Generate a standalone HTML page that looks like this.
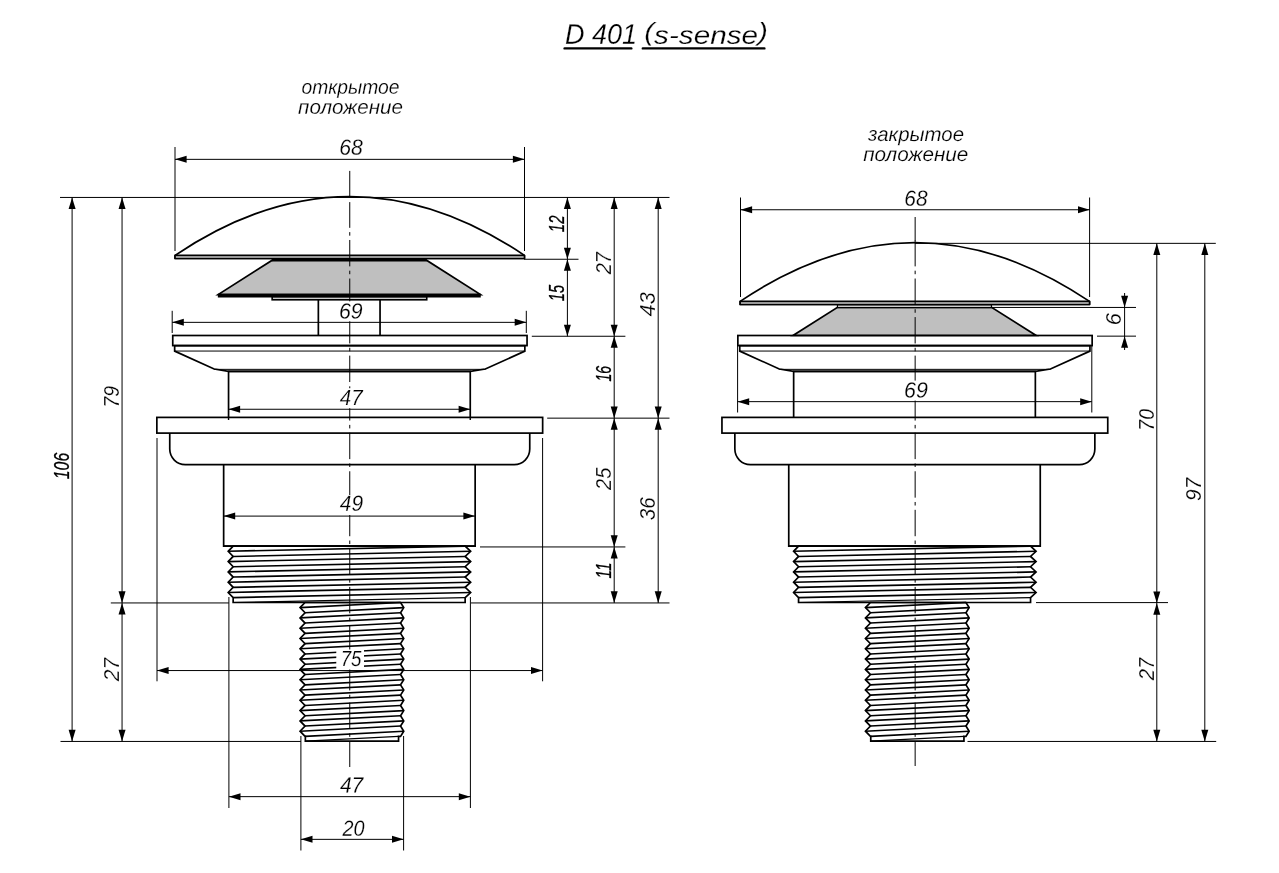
<!DOCTYPE html>
<html lang="ru">
<head>
<meta charset="utf-8">
<title>D 401 (s-sense)</title>
<style>
html,body{margin:0;padding:0;background:#fff;}
body{width:1279px;height:873px;overflow:hidden;}
svg{display:block;will-change:transform;filter:grayscale(1);}
.t,.tb{font-family:"Liberation Sans", "DejaVu Sans", sans-serif;font-style:italic;text-anchor:middle;fill:#000;stroke:#fff;stroke-width:0.2px;}
.tb{stroke:#000;stroke-width:0.3px;}
</style>
</head>
<body>
<svg width="1279" height="873" viewBox="0 0 1279 873" stroke="#000" fill="none" stroke-linecap="butt">
<rect x="0" y="0" width="1279" height="873" fill="#fff" stroke="none"/>

<g id="view-open">
<path d="M228.55,417.4 V371.3 H470.25 V417.4" stroke-width="1.7" fill="none" />
<path d="M169.75,433.1 V449.10 A15.5,15.5 0 0 0 185.25,464.6 H514.25 A15.5,15.5 0 0 0 529.75,449.10 V433.1" stroke-width="1.7" fill="none" />
<rect x="156.85" y="417.40" width="385.80" height="15.70" stroke-width="1.7" fill="none" />
<path d="M228.55,417.4 V420.0 M470.25,417.4 V420.0" stroke-width="1.4" fill="none" />
<path d="M223.65,464.6 V546.1 H475.15 V464.6" stroke-width="1.7" fill="none" />
<path d="M233.15,546.10 L228.20,551.30 L233.15,556.45 L228.20,561.60 L233.15,566.75 L228.20,571.90 L233.15,577.05 L228.20,582.20 L233.15,587.35 L228.20,592.50 L233.15,597.65 L233.15,597.65 L233.15,602.50 L465.15,602.50 L465.15,597.65 L465.15,597.65 L470.65,592.50 L465.15,587.35 L470.65,582.20 L465.15,577.05 L470.65,571.90 L465.15,566.75 L470.65,561.60 L465.15,556.45 L470.65,551.30 L465.15,546.10 Z" stroke-width="1.7" fill="none" stroke-linejoin="miter"/>
<line x1="228.20" y1="551.30" x2="465.15" y2="546.15" stroke-width="1.65" />
<line x1="233.15" y1="556.45" x2="470.65" y2="551.30" stroke-width="1.65" />
<line x1="228.20" y1="561.60" x2="465.15" y2="556.45" stroke-width="1.65" />
<line x1="233.15" y1="566.75" x2="470.65" y2="561.60" stroke-width="1.65" />
<line x1="228.20" y1="571.90" x2="465.15" y2="566.75" stroke-width="1.65" />
<line x1="233.15" y1="577.05" x2="470.65" y2="571.90" stroke-width="1.65" />
<line x1="228.20" y1="582.20" x2="465.15" y2="577.05" stroke-width="1.65" />
<line x1="233.15" y1="587.35" x2="470.65" y2="582.20" stroke-width="1.65" />
<line x1="228.20" y1="592.50" x2="465.15" y2="587.35" stroke-width="1.65" />
<line x1="233.15" y1="597.65" x2="470.65" y2="592.50" stroke-width="1.65" />
<line x1="233.15" y1="602.50" x2="465.15" y2="597.65" stroke-width="1.2" />
<path d="M305.05,602.50 L300.05,607.60 L305.05,612.75 L300.05,617.90 L305.05,623.05 L300.05,628.20 L305.05,633.35 L300.05,638.50 L305.05,643.65 L300.05,648.80 L305.05,653.95 L300.05,659.10 L305.05,664.25 L300.05,669.40 L305.05,674.55 L300.05,679.70 L305.05,684.85 L300.05,690.00 L305.05,695.15 L300.05,700.30 L305.05,705.45 L300.05,710.60 L305.05,715.75 L300.05,720.90 L305.05,726.05 L300.05,731.20 L305.05,736.35 L305.35,736.35 L305.35,741.20 L398.55,741.20 L398.55,736.35 L400.55,736.35 L403.75,731.20 L400.55,726.05 L403.75,720.90 L400.55,715.75 L403.75,710.60 L400.55,705.45 L403.75,700.30 L400.55,695.15 L403.75,690.00 L400.55,684.85 L403.75,679.70 L400.55,674.55 L403.75,669.40 L400.55,664.25 L403.75,659.10 L400.55,653.95 L403.75,648.80 L400.55,643.65 L403.75,638.50 L400.55,633.35 L403.75,628.20 L400.55,623.05 L403.75,617.90 L400.55,612.75 L403.75,607.60 L400.55,602.50 Z" stroke-width="1.7" fill="none" stroke-linejoin="miter"/>
<line x1="300.05" y1="607.60" x2="400.55" y2="602.45" stroke-width="1.65" />
<line x1="305.05" y1="612.75" x2="403.75" y2="607.60" stroke-width="1.65" />
<line x1="300.05" y1="617.90" x2="400.55" y2="612.75" stroke-width="1.65" />
<line x1="305.05" y1="623.05" x2="403.75" y2="617.90" stroke-width="1.65" />
<line x1="300.05" y1="628.20" x2="400.55" y2="623.05" stroke-width="1.65" />
<line x1="305.05" y1="633.35" x2="403.75" y2="628.20" stroke-width="1.65" />
<line x1="300.05" y1="638.50" x2="400.55" y2="633.35" stroke-width="1.65" />
<line x1="305.05" y1="643.65" x2="403.75" y2="638.50" stroke-width="1.65" />
<line x1="300.05" y1="648.80" x2="400.55" y2="643.65" stroke-width="1.65" />
<line x1="305.05" y1="653.95" x2="403.75" y2="648.80" stroke-width="1.65" />
<line x1="300.05" y1="659.10" x2="400.55" y2="653.95" stroke-width="1.65" />
<line x1="305.05" y1="664.25" x2="403.75" y2="659.10" stroke-width="1.65" />
<line x1="300.05" y1="669.40" x2="400.55" y2="664.25" stroke-width="1.65" />
<line x1="305.05" y1="674.55" x2="403.75" y2="669.40" stroke-width="1.65" />
<line x1="300.05" y1="679.70" x2="400.55" y2="674.55" stroke-width="1.65" />
<line x1="305.05" y1="684.85" x2="403.75" y2="679.70" stroke-width="1.65" />
<line x1="300.05" y1="690.00" x2="400.55" y2="684.85" stroke-width="1.65" />
<line x1="305.05" y1="695.15" x2="403.75" y2="690.00" stroke-width="1.65" />
<line x1="300.05" y1="700.30" x2="400.55" y2="695.15" stroke-width="1.65" />
<line x1="305.05" y1="705.45" x2="403.75" y2="700.30" stroke-width="1.65" />
<line x1="300.05" y1="710.60" x2="400.55" y2="705.45" stroke-width="1.65" />
<line x1="305.05" y1="715.75" x2="403.75" y2="710.60" stroke-width="1.65" />
<line x1="300.05" y1="720.90" x2="400.55" y2="715.75" stroke-width="1.65" />
<line x1="305.05" y1="726.05" x2="403.75" y2="720.90" stroke-width="1.65" />
<line x1="300.05" y1="731.20" x2="400.55" y2="726.05" stroke-width="1.65" />
<line x1="305.05" y1="736.35" x2="403.75" y2="731.20" stroke-width="1.65" />
<line x1="305.35" y1="741.20" x2="398.55" y2="736.35" stroke-width="1.2" />
<line x1="223.65" y1="546.10" x2="475.15" y2="546.10" stroke-width="1.7" />
<path d="M174.65,345.6 V351.1 L214.15,369.0 L228.55,371.3 H470.35 L485.35,369.0 L524.85,351.1 V345.6 Z" stroke-width="1.7" fill="none" />
<line x1="174.65" y1="351.05" x2="524.85" y2="351.05" stroke-width="1.0" />
<line x1="214.15" y1="369.35" x2="485.35" y2="369.35" stroke-width="1.0" />
<rect x="172.75" y="335.50" width="354.30" height="10.10" stroke-width="1.7" fill="none" />
<path d="M318.35,335.5 V299.8 M380.05,335.5 V299.8" stroke-width="1.7" fill="none" />
<rect x="272.15" y="296.50" width="154.60" height="3.30" stroke-width="1.6" fill="#cccccc" />
<path d="M272.25,260.2 H426.45 L480.55,294.6 H218.15 Z" stroke-width="1.7" fill="#bfbfbf" stroke-linejoin="miter"/>
<rect x="217.85" y="293.70" width="262.90" height="3.80" stroke-width="0" fill="#000" stroke="none"/>
<rect x="271.85" y="258.40" width="154.90" height="3.10" stroke-width="0" fill="#000" stroke="none"/>
<path d="M175.05,255.40 Q349.75,137.80 524.45,255.40 V258.50 H175.05 Z" stroke-width="1.7" fill="none" stroke-linejoin="round"/>
<rect x="175.05" y="255.40" width="349.40" height="3.10" stroke-width="1.6" fill="#cccccc" stroke-linejoin="round"/>
</g>
<g id="view-closed">
<path d="M793.65,417.4 V371.3 H1035.35 V417.4" stroke-width="1.7" fill="none" />
<path d="M734.85,433.1 V449.10 A15.5,15.5 0 0 0 750.35,464.6 H1079.35 A15.5,15.5 0 0 0 1094.85,449.10 V433.1" stroke-width="1.7" fill="none" />
<rect x="721.95" y="417.40" width="385.80" height="15.70" stroke-width="1.7" fill="none" />
<path d="M788.75,464.6 V546.1 H1040.25 V464.6" stroke-width="1.7" fill="none" />
<path d="M798.55,546.10 L793.60,551.30 L798.55,556.45 L793.60,561.60 L798.55,566.75 L793.60,571.90 L798.55,577.05 L793.60,582.20 L798.55,587.35 L793.60,592.50 L798.55,597.65 L798.55,597.65 L798.55,602.50 L1030.55,602.50 L1030.55,597.65 L1030.55,597.65 L1036.05,592.50 L1030.55,587.35 L1036.05,582.20 L1030.55,577.05 L1036.05,571.90 L1030.55,566.75 L1036.05,561.60 L1030.55,556.45 L1036.05,551.30 L1030.55,546.10 Z" stroke-width="1.7" fill="none" stroke-linejoin="miter"/>
<line x1="793.60" y1="551.30" x2="1030.55" y2="546.15" stroke-width="1.65" />
<line x1="798.55" y1="556.45" x2="1036.05" y2="551.30" stroke-width="1.65" />
<line x1="793.60" y1="561.60" x2="1030.55" y2="556.45" stroke-width="1.65" />
<line x1="798.55" y1="566.75" x2="1036.05" y2="561.60" stroke-width="1.65" />
<line x1="793.60" y1="571.90" x2="1030.55" y2="566.75" stroke-width="1.65" />
<line x1="798.55" y1="577.05" x2="1036.05" y2="571.90" stroke-width="1.65" />
<line x1="793.60" y1="582.20" x2="1030.55" y2="577.05" stroke-width="1.65" />
<line x1="798.55" y1="587.35" x2="1036.05" y2="582.20" stroke-width="1.65" />
<line x1="793.60" y1="592.50" x2="1030.55" y2="587.35" stroke-width="1.65" />
<line x1="798.55" y1="597.65" x2="1036.05" y2="592.50" stroke-width="1.65" />
<line x1="798.55" y1="602.50" x2="1030.55" y2="597.65" stroke-width="1.2" />
<path d="M870.45,602.50 L865.45,607.60 L870.45,612.75 L865.45,617.90 L870.45,623.05 L865.45,628.20 L870.45,633.35 L865.45,638.50 L870.45,643.65 L865.45,648.80 L870.45,653.95 L865.45,659.10 L870.45,664.25 L865.45,669.40 L870.45,674.55 L865.45,679.70 L870.45,684.85 L865.45,690.00 L870.45,695.15 L865.45,700.30 L870.45,705.45 L865.45,710.60 L870.45,715.75 L865.45,720.90 L870.45,726.05 L865.45,731.20 L870.45,736.35 L870.75,736.35 L870.75,741.20 L963.95,741.20 L963.95,736.35 L965.95,736.35 L969.15,731.20 L965.95,726.05 L969.15,720.90 L965.95,715.75 L969.15,710.60 L965.95,705.45 L969.15,700.30 L965.95,695.15 L969.15,690.00 L965.95,684.85 L969.15,679.70 L965.95,674.55 L969.15,669.40 L965.95,664.25 L969.15,659.10 L965.95,653.95 L969.15,648.80 L965.95,643.65 L969.15,638.50 L965.95,633.35 L969.15,628.20 L965.95,623.05 L969.15,617.90 L965.95,612.75 L969.15,607.60 L965.95,602.50 Z" stroke-width="1.7" fill="none" stroke-linejoin="miter"/>
<line x1="865.45" y1="607.60" x2="965.95" y2="602.45" stroke-width="1.65" />
<line x1="870.45" y1="612.75" x2="969.15" y2="607.60" stroke-width="1.65" />
<line x1="865.45" y1="617.90" x2="965.95" y2="612.75" stroke-width="1.65" />
<line x1="870.45" y1="623.05" x2="969.15" y2="617.90" stroke-width="1.65" />
<line x1="865.45" y1="628.20" x2="965.95" y2="623.05" stroke-width="1.65" />
<line x1="870.45" y1="633.35" x2="969.15" y2="628.20" stroke-width="1.65" />
<line x1="865.45" y1="638.50" x2="965.95" y2="633.35" stroke-width="1.65" />
<line x1="870.45" y1="643.65" x2="969.15" y2="638.50" stroke-width="1.65" />
<line x1="865.45" y1="648.80" x2="965.95" y2="643.65" stroke-width="1.65" />
<line x1="870.45" y1="653.95" x2="969.15" y2="648.80" stroke-width="1.65" />
<line x1="865.45" y1="659.10" x2="965.95" y2="653.95" stroke-width="1.65" />
<line x1="870.45" y1="664.25" x2="969.15" y2="659.10" stroke-width="1.65" />
<line x1="865.45" y1="669.40" x2="965.95" y2="664.25" stroke-width="1.65" />
<line x1="870.45" y1="674.55" x2="969.15" y2="669.40" stroke-width="1.65" />
<line x1="865.45" y1="679.70" x2="965.95" y2="674.55" stroke-width="1.65" />
<line x1="870.45" y1="684.85" x2="969.15" y2="679.70" stroke-width="1.65" />
<line x1="865.45" y1="690.00" x2="965.95" y2="684.85" stroke-width="1.65" />
<line x1="870.45" y1="695.15" x2="969.15" y2="690.00" stroke-width="1.65" />
<line x1="865.45" y1="700.30" x2="965.95" y2="695.15" stroke-width="1.65" />
<line x1="870.45" y1="705.45" x2="969.15" y2="700.30" stroke-width="1.65" />
<line x1="865.45" y1="710.60" x2="965.95" y2="705.45" stroke-width="1.65" />
<line x1="870.45" y1="715.75" x2="969.15" y2="710.60" stroke-width="1.65" />
<line x1="865.45" y1="720.90" x2="965.95" y2="715.75" stroke-width="1.65" />
<line x1="870.45" y1="726.05" x2="969.15" y2="720.90" stroke-width="1.65" />
<line x1="865.45" y1="731.20" x2="965.95" y2="726.05" stroke-width="1.65" />
<line x1="870.45" y1="736.35" x2="969.15" y2="731.20" stroke-width="1.65" />
<line x1="870.75" y1="741.20" x2="963.95" y2="736.35" stroke-width="1.2" />
<line x1="788.75" y1="546.10" x2="1040.25" y2="546.10" stroke-width="1.7" />
<path d="M837.55,307.3 H991.55 L1036.15,335.5 H793.05 Z" stroke-width="1.7" fill="#bfbfbf" stroke-linejoin="miter"/>
<rect x="837.45" y="304.60" width="154.00" height="3.00" stroke-width="1.2" fill="#cccccc" />
<path d="M739.75,345.6 V351.1 L779.25,369.0 L793.65,371.3 H1035.45 L1050.45,369.0 L1089.95,351.1 V345.6 Z" stroke-width="1.7" fill="none" />
<line x1="739.75" y1="351.05" x2="1089.95" y2="351.05" stroke-width="1.0" />
<line x1="779.25" y1="369.35" x2="1050.45" y2="369.35" stroke-width="1.0" />
<rect x="737.85" y="335.50" width="354.30" height="10.10" stroke-width="1.7" fill="none" />
<path d="M740.15,301.40 Q914.85,183.80 1089.55,301.40 V304.50 H740.15 Z" stroke-width="1.7" fill="none" stroke-linejoin="round"/>
<rect x="740.15" y="301.40" width="349.40" height="3.10" stroke-width="1.6" fill="#cccccc" stroke-linejoin="round"/>
</g>
<g id="centre">
<line x1="349.75" y1="170.90" x2="349.75" y2="196.50" stroke-width="1.0" />
<path d="M349.75,202.10V227.83 M349.75,232.12V235.68 M349.75,239.98V266.38 M349.75,270.68V274.22 M349.75,278.52V304.92 M349.75,309.23V312.77 M349.75,317.07V343.47 M349.75,347.78V351.32 M349.75,355.62V382.02 M349.75,386.33V389.88 M349.75,394.18V420.57 M349.75,424.88V428.42 M349.75,432.72V459.12 M349.75,463.43V466.97 M349.75,471.27V497.67 M349.75,501.98V505.52 M349.75,509.82V536.23 M349.75,540.52V544.07 M349.75,548.37V574.77 M349.75,579.08V582.62 M349.75,586.92V613.32 M349.75,617.62V621.17 M349.75,625.47V651.87 M349.75,656.17V659.72 M349.75,664.02V690.42 M349.75,694.73V698.27 M349.75,702.57V728.97 M349.75,733.27V736.82 M349.75,741.12V767.00" stroke-width="1.0" fill="none" />
<line x1="915.15" y1="217.00" x2="915.15" y2="241.00" stroke-width="1.0" />
<path d="M915.15,240.50V266.38 M915.15,270.68V274.22 M915.15,278.52V304.92 M915.15,309.23V312.77 M915.15,317.07V343.47 M915.15,347.78V351.32 M915.15,355.62V382.02 M915.15,386.33V389.88 M915.15,394.18V420.57 M915.15,424.88V428.42 M915.15,432.72V459.12 M915.15,463.43V466.97 M915.15,471.27V497.67 M915.15,501.98V505.52 M915.15,509.82V536.23 M915.15,540.52V544.07 M915.15,548.37V574.77 M915.15,579.08V582.62 M915.15,586.92V613.32 M915.15,617.62V621.17 M915.15,625.47V651.87 M915.15,656.17V659.72 M915.15,664.02V690.42 M915.15,694.73V698.27 M915.15,702.57V728.97 M915.15,733.27V736.82 M915.15,741.12V766.00" stroke-width="1.0" fill="none" />
</g>
<g id="masks">
<rect x="336.27" y="301.30" width="27.75" height="20.00" fill="#fff" stroke="none"/>
<rect x="336.27" y="388.20" width="27.75" height="20.00" fill="#fff" stroke="none"/>
<rect x="336.27" y="495.00" width="27.75" height="20.00" fill="#fff" stroke="none"/>
<rect x="336.27" y="649.50" width="27.75" height="20.00" fill="#fff" stroke="none"/>
<rect x="901.38" y="380.60" width="27.75" height="20.00" fill="#fff" stroke="none"/>
</g>
<g id="dims">
<line x1="175.00" y1="147.00" x2="175.00" y2="251.00" stroke-width="1.0" />
<line x1="524.50" y1="147.00" x2="524.50" y2="251.00" stroke-width="1.0" />
<line x1="175.00" y1="159.35" x2="524.50" y2="159.35" stroke-width="1.0" />
<polygon points="175.00,159.35 186.60,155.85 186.60,162.85" fill="#000" stroke="none"/>
<polygon points="524.50,159.35 512.90,162.85 512.90,155.85" fill="#000" stroke="none"/>
<line x1="172.20" y1="310.80" x2="172.20" y2="333.00" stroke-width="1.0" />
<line x1="526.30" y1="310.80" x2="526.30" y2="333.00" stroke-width="1.0" />
<line x1="172.20" y1="322.35" x2="526.30" y2="322.35" stroke-width="1.0" />
<polygon points="172.20,322.35 183.80,318.85 183.80,325.85" fill="#000" stroke="none"/>
<polygon points="526.30,322.35 514.70,325.85 514.70,318.85" fill="#000" stroke="none"/>
<line x1="228.50" y1="409.25" x2="470.20" y2="409.25" stroke-width="1.0" />
<polygon points="228.50,409.25 240.10,405.75 240.10,412.75" fill="#000" stroke="none"/>
<polygon points="470.20,409.25 458.60,412.75 458.60,405.75" fill="#000" stroke="none"/>
<line x1="223.60" y1="516.10" x2="475.00" y2="516.10" stroke-width="1.0" />
<polygon points="223.60,516.10 235.20,512.60 235.20,519.60" fill="#000" stroke="none"/>
<polygon points="475.00,516.10 463.40,519.60 463.40,512.60" fill="#000" stroke="none"/>
<line x1="157.00" y1="438.00" x2="157.00" y2="681.30" stroke-width="1.0" />
<line x1="542.60" y1="438.00" x2="542.60" y2="681.30" stroke-width="1.0" />
<line x1="157.00" y1="670.55" x2="542.60" y2="670.55" stroke-width="1.0" />
<polygon points="157.00,670.55 168.60,667.05 168.60,674.05" fill="#000" stroke="none"/>
<polygon points="542.60,670.55 531.00,674.05 531.00,667.05" fill="#000" stroke="none"/>
<line x1="228.90" y1="597.00" x2="228.90" y2="808.00" stroke-width="1.0" />
<line x1="470.40" y1="597.00" x2="470.40" y2="808.00" stroke-width="1.0" />
<line x1="228.90" y1="796.65" x2="470.40" y2="796.65" stroke-width="1.0" />
<polygon points="228.90,796.65 240.50,793.15 240.50,800.15" fill="#000" stroke="none"/>
<polygon points="470.40,796.65 458.80,800.15 458.80,793.15" fill="#000" stroke="none"/>
<line x1="300.90" y1="736.00" x2="300.90" y2="850.50" stroke-width="1.0" />
<line x1="403.60" y1="736.00" x2="403.60" y2="850.50" stroke-width="1.0" />
<line x1="300.90" y1="839.35" x2="403.60" y2="839.35" stroke-width="1.0" />
<polygon points="300.90,839.35 312.50,835.85 312.50,842.85" fill="#000" stroke="none"/>
<polygon points="403.60,839.35 392.00,842.85 392.00,835.85" fill="#000" stroke="none"/>
<line x1="60.00" y1="197.45" x2="669.50" y2="197.45" stroke-width="1.0" />
<line x1="110.80" y1="602.95" x2="228.90" y2="602.95" stroke-width="1.0" />
<line x1="60.50" y1="741.45" x2="300.90" y2="741.45" stroke-width="1.0" />
<line x1="72.10" y1="197.45" x2="72.10" y2="741.45" stroke-width="1.0" />
<polygon points="72.10,197.45 75.60,209.05 68.60,209.05" fill="#000" stroke="none"/>
<polygon points="72.10,741.45 68.60,729.85 75.60,729.85" fill="#000" stroke="none"/>
<line x1="122.05" y1="197.45" x2="122.05" y2="602.95" stroke-width="1.0" />
<polygon points="122.05,197.45 125.55,209.05 118.55,209.05" fill="#000" stroke="none"/>
<polygon points="122.05,602.95 118.55,591.35 125.55,591.35" fill="#000" stroke="none"/>
<line x1="122.05" y1="602.95" x2="122.05" y2="741.45" stroke-width="1.0" />
<polygon points="122.05,602.95 125.55,614.55 118.55,614.55" fill="#000" stroke="none"/>
<polygon points="122.05,741.45 118.55,729.85 125.55,729.85" fill="#000" stroke="none"/>
<line x1="524.00" y1="259.25" x2="578.50" y2="259.25" stroke-width="1.0" />
<line x1="531.80" y1="336.25" x2="625.40" y2="336.25" stroke-width="1.0" />
<line x1="547.20" y1="418.15" x2="669.50" y2="418.15" stroke-width="1.0" />
<line x1="480.00" y1="546.95" x2="625.40" y2="546.95" stroke-width="1.0" />
<line x1="471.00" y1="602.95" x2="669.50" y2="602.95" stroke-width="1.0" />
<line x1="567.40" y1="197.45" x2="567.40" y2="259.25" stroke-width="1.0" />
<polygon points="567.40,197.45 570.90,209.05 563.90,209.05" fill="#000" stroke="none"/>
<polygon points="567.40,259.25 563.90,247.65 570.90,247.65" fill="#000" stroke="none"/>
<line x1="567.40" y1="259.25" x2="567.40" y2="336.25" stroke-width="1.0" />
<polygon points="567.40,259.25 570.90,270.85 563.90,270.85" fill="#000" stroke="none"/>
<polygon points="567.40,336.25 563.90,324.65 570.90,324.65" fill="#000" stroke="none"/>
<line x1="614.20" y1="197.45" x2="614.20" y2="336.25" stroke-width="1.0" />
<polygon points="614.20,197.45 617.70,209.05 610.70,209.05" fill="#000" stroke="none"/>
<polygon points="614.20,336.25 610.70,324.65 617.70,324.65" fill="#000" stroke="none"/>
<line x1="614.20" y1="336.25" x2="614.20" y2="418.15" stroke-width="1.0" />
<polygon points="614.20,336.25 617.70,347.85 610.70,347.85" fill="#000" stroke="none"/>
<polygon points="614.20,418.15 610.70,406.55 617.70,406.55" fill="#000" stroke="none"/>
<line x1="614.20" y1="418.15" x2="614.20" y2="546.95" stroke-width="1.0" />
<polygon points="614.20,418.15 617.70,429.75 610.70,429.75" fill="#000" stroke="none"/>
<polygon points="614.20,546.95 610.70,535.35 617.70,535.35" fill="#000" stroke="none"/>
<line x1="614.20" y1="546.95" x2="614.20" y2="602.95" stroke-width="1.0" />
<polygon points="614.20,546.95 617.70,558.55 610.70,558.55" fill="#000" stroke="none"/>
<polygon points="614.20,602.95 610.70,591.35 617.70,591.35" fill="#000" stroke="none"/>
<line x1="658.20" y1="197.45" x2="658.20" y2="418.15" stroke-width="1.0" />
<polygon points="658.20,197.45 661.70,209.05 654.70,209.05" fill="#000" stroke="none"/>
<polygon points="658.20,418.15 654.70,406.55 661.70,406.55" fill="#000" stroke="none"/>
<line x1="658.20" y1="418.15" x2="658.20" y2="602.95" stroke-width="1.0" />
<polygon points="658.20,418.15 661.70,429.75 654.70,429.75" fill="#000" stroke="none"/>
<polygon points="658.20,602.95 654.70,591.35 661.70,591.35" fill="#000" stroke="none"/>
<line x1="740.50" y1="197.50" x2="740.50" y2="297.00" stroke-width="1.0" />
<line x1="1089.60" y1="197.50" x2="1089.60" y2="297.00" stroke-width="1.0" />
<line x1="740.50" y1="209.75" x2="1089.60" y2="209.75" stroke-width="1.0" />
<polygon points="740.50,209.75 752.10,206.25 752.10,213.25" fill="#000" stroke="none"/>
<polygon points="1089.60,209.75 1078.00,213.25 1078.00,206.25" fill="#000" stroke="none"/>
<line x1="737.60" y1="345.00" x2="737.60" y2="412.50" stroke-width="1.0" />
<line x1="1091.80" y1="345.00" x2="1091.80" y2="412.50" stroke-width="1.0" />
<line x1="737.60" y1="401.65" x2="1091.80" y2="401.65" stroke-width="1.0" />
<polygon points="737.60,401.65 749.20,398.15 749.20,405.15" fill="#000" stroke="none"/>
<polygon points="1091.80,401.65 1080.20,405.15 1080.20,398.15" fill="#000" stroke="none"/>
<line x1="914.85" y1="243.35" x2="1215.80" y2="243.35" stroke-width="1.0" />
<line x1="1036.00" y1="602.60" x2="1168.00" y2="602.60" stroke-width="1.0" />
<line x1="967.50" y1="741.45" x2="1216.20" y2="741.45" stroke-width="1.0" />
<line x1="1156.80" y1="243.35" x2="1156.80" y2="603.05" stroke-width="1.0" />
<polygon points="1156.80,243.35 1160.30,254.95 1153.30,254.95" fill="#000" stroke="none"/>
<polygon points="1156.80,603.05 1153.30,591.45 1160.30,591.45" fill="#000" stroke="none"/>
<line x1="1156.80" y1="603.05" x2="1156.80" y2="741.45" stroke-width="1.0" />
<polygon points="1156.80,603.05 1160.30,614.65 1153.30,614.65" fill="#000" stroke="none"/>
<polygon points="1156.80,741.45 1153.30,729.85 1160.30,729.85" fill="#000" stroke="none"/>
<line x1="1204.80" y1="243.35" x2="1204.80" y2="741.45" stroke-width="1.0" />
<polygon points="1204.80,243.35 1208.30,254.95 1201.30,254.95" fill="#000" stroke="none"/>
<polygon points="1204.80,741.45 1201.30,729.85 1208.30,729.85" fill="#000" stroke="none"/>
<line x1="991.50" y1="307.45" x2="1136.00" y2="307.45" stroke-width="1.0" />
<line x1="1097.00" y1="336.15" x2="1136.00" y2="336.15" stroke-width="1.0" />
<line x1="1124.60" y1="293.00" x2="1124.60" y2="350.00" stroke-width="1.0" />
<polygon points="1124.60,307.45 1121.10,295.85 1128.10,295.85" fill="#000" stroke="none"/>
<polygon points="1124.60,336.15 1128.10,347.75 1121.10,347.75" fill="#000" stroke="none"/>
</g>
<g id="texts">
<text class="t" transform="translate(351.13 154.70) rotate(0.03) scale(0.9636 1)" font-size="22.0">68</text>
<text class="t" transform="translate(350.82 318.40) rotate(0.03) scale(0.9672 1)" font-size="22.0">69</text>
<text class="t" transform="translate(351.24 405.00) rotate(0.03) scale(0.9340 1)" font-size="22.0">47</text>
<text class="t" transform="translate(351.45 510.80) rotate(0.03) scale(0.9482 1)" font-size="22.0">49</text>
<text class="t" transform="translate(351.09 666.10) rotate(0.03) scale(0.8491 1)" font-size="22.0">75</text>
<text class="t" transform="translate(351.60 792.50) rotate(0.03) scale(0.9561 1)" font-size="22.0">47</text>
<text class="t" transform="translate(353.39 835.70) rotate(0.03) scale(0.9000 1)" font-size="22.0">20</text>
<text class="t" transform="translate(915.91 205.70) rotate(0.03) scale(0.9492 1)" font-size="22.0">68</text>
<text class="t" transform="translate(915.91 397.60) rotate(0.03) scale(0.9704 1)" font-size="22.0">69</text>
<text class="tb" transform="translate(68.50 465.99) rotate(-90) scale(0.6930 1)" font-size="22.8">106</text>
<text class="t" transform="translate(118.50 396.80) rotate(-90) scale(0.8543 1)" font-size="22.8">79</text>
<text class="t" transform="translate(118.80 669.53) rotate(-90) scale(0.9239 1)" font-size="22.8">27</text>
<text class="tb" transform="translate(564.30 223.84) rotate(-90) scale(0.6582 1)" font-size="22.8">12</text>
<text class="tb" transform="translate(564.30 293.07) rotate(-90) scale(0.6391 1)" font-size="22.8">15</text>
<text class="t" transform="translate(610.80 263.18) rotate(-90) scale(0.8730 1)" font-size="22.8">27</text>
<text class="tb" transform="translate(610.80 373.69) rotate(-90) scale(0.6199 1)" font-size="22.8">16</text>
<text class="t" transform="translate(611.10 478.85) rotate(-90) scale(0.8771 1)" font-size="22.8">25</text>
<text class="tb" transform="translate(610.80 570.55) rotate(-90) scale(0.6664 1)" font-size="22.8">11</text>
<text class="t" transform="translate(654.50 304.36) rotate(-90) scale(0.9487 1)" font-size="22.8">43</text>
<text class="t" transform="translate(654.50 508.85) rotate(-90) scale(0.9080 1)" font-size="22.8">36</text>
<text class="t" transform="translate(1121.10 319.09) rotate(-90) scale(0.9591 1)" font-size="22.8">6</text>
<text class="t" transform="translate(1153.70 419.85) rotate(-90) scale(0.8534 1)" font-size="22.8">70</text>
<text class="t" transform="translate(1153.90 669.10) rotate(-90) scale(0.8879 1)" font-size="22.8">27</text>
<text class="t" transform="translate(1201.30 489.35) rotate(-90) scale(0.9124 1)" font-size="22.8">97</text>
<text class="t" transform="translate(350.47 93.80) rotate(0.03) scale(0.9644 1)" font-size="20.0">открытое</text>
<text class="t" transform="translate(350.54 113.80) rotate(0.03) scale(1.0301 1)" font-size="20.0">положение</text>
<text class="t" transform="translate(915.98 140.90) rotate(0.03) scale(1.0208 1)" font-size="20.0">закрытое</text>
<text class="t" transform="translate(915.76 161.00) rotate(0.03) scale(1.0334 1)" font-size="20.0">положение</text>
<text class="t" transform="translate(601.03 43.70) rotate(0.03) scale(0.9536 1)" font-size="28.3">D 401</text>
<text class="t" transform="translate(706.07 43.70) rotate(0.03) scale(1.1742 1)" font-size="25.3"><tspan dy="-3.4">(</tspan><tspan dy="3.4">s-sense</tspan><tspan dy="-3.4">)</tspan></text>
</g>
<g id="underline">
<rect x="563.40" y="47.20" width="69.10" height="2.40" stroke-width="0" fill="#000" stroke="none" rx="1.2"/>
<rect x="641.60" y="47.20" width="124.00" height="2.40" stroke-width="0" fill="#000" stroke="none" rx="1.2"/>
</g>
</svg>
</body>
</html>
